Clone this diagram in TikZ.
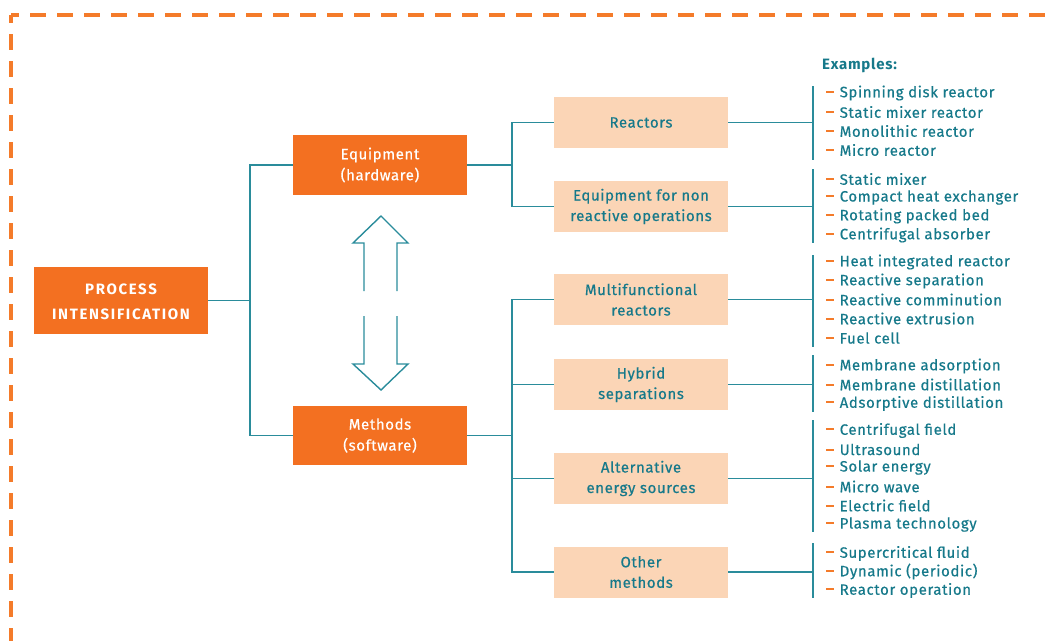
\documentclass[tikz,border=0pt]{standalone}
\usepackage{fontspec}
\setmainfont{Fira Sans}
\newfontfamily\itemfont{Fira Sans}[FakeBold=0.5,LetterSpace=4]
\newfontfamily\boldfont{Fira Sans Bold}[LetterSpace=11]
\newfontfamily\exfont{Fira Sans Bold}[LetterSpace=5]
\definecolor{porange}{HTML}{F37021}
\definecolor{peach}{HTML}{FBD5B6}
\definecolor{teal}{HTML}{16798A}
\definecolor{lteal}{HTML}{2A8C9B}
\definecolor{dorange}{HTML}{F47B2A}
\begin{document}
\begin{tikzpicture}[x=1pt,y=-1pt,
  mainbox/.style={fill=porange,text=white,minimum width=174pt,inner sep=0pt,align=center,font=\itemfont\fontsize{15}{21}\selectfont},
  subbox/.style={fill=peach,text=teal,minimum width=174pt,minimum height=51pt,inner sep=0pt,align=center,font=\itemfont\fontsize{15}{20.5}\selectfont},
  conn/.style={draw=lteal,line width=1.3pt},
  item/.style={anchor=west,inner sep=0pt,text=teal,font=\itemfont\fontsize{15}{16}\selectfont},
  dbl/.style={draw=lteal,line width=1.4pt,line join=miter}]
\useasboundingbox (0,0) rectangle (1055,641);
% dashed frame
\draw[dorange,line width=4pt,dash pattern=on 16pt off 11pt,dash phase=8pt] (11,15) -- (1055,15);
\draw[dorange,line width=4pt,dash pattern=on 16pt off 11pt,dash phase=8pt] (11,15) -- (11,641);
% main boxes
\node[mainbox,minimum height=65pt,font=\boldfont\fontsize{15}{25}\selectfont] (pi) at (121,301.5) {PROCESS\\INTENSIFICATION};
\fill[porange] (pi.north west) rectangle ([yshift=2pt]pi.north east);
\node[mainbox,minimum height=60pt] (equip) at (380,165) {Equipment\\(hardware)};
\node[mainbox,minimum height=59pt] (meth) at (380,435.5) {Methods\\(software)};
% sub boxes
\node[subbox] (reac) at (641,122.5) {Reactors};
\node[subbox] (nonr) at (641,206.5) {Equipment for non\\reactive operations};
\node[subbox] (multi) at (641,299.5) {Multifunctional\\reactors};
\node[subbox] (hyb) at (641,384.5) {Hybrid\\separations};
\node[subbox] (alt) at (641,478.5) {Alternative\\energy sources};
\node[subbox] (oth) at (641,572) {Other\\methods};
% junctions
\coordinate (j1) at (250,300.5);
\coordinate (j2) at (512,165);
\coordinate (j3) at (512,435.5);
\draw[conn] (pi.east |- j1) -- (j1);
\draw[conn] (equip.west) -| (j1) |- (meth.west);
\draw[conn] (equip.east) -- (j2);
\draw[conn] (reac.west) -| (j2) |- (nonr.west);
\draw[conn] (meth.east) -- (j3);
\draw[conn] (multi.west) -| (j3) |- (oth.west);
\draw[conn] (hyb.west) -- (hyb.west -| j3);
\draw[conn] (alt.west) -- (alt.west -| j3);
% brackets
\coordinate (b1) at (813,122.5);
\coordinate (b2) at (813,206.5);
\coordinate (b3) at (813,299.5);
\coordinate (b4) at (813,384.5);
\coordinate (b5) at (813,478.5);
\coordinate (b6) at (813,572);
\draw[conn] (reac.east) -- (b1);
\draw[conn] (nonr.east) -- (b2);
\draw[conn] (multi.east) -- (b3);
\draw[conn] (hyb.east) -- (b4);
\draw[conn] (alt.east) -- (b5);
\draw[conn] (oth.east) -- (b6);
\draw[conn] (813,86) -- (813,160);
\draw[conn] (813,169) -- (813,243);
\draw[conn] (813,255) -- (813,347);
\draw[conn] (813,355) -- (813,412);
\draw[conn] (813,420) -- (813,532);
\draw[conn] (813,543) -- (813,598);
% double arrow
\draw[dbl] (364,291) -- (364,243) -- (353,243) -- (381,216) -- (408,243) -- (397,243) -- (397,291);
\draw[dbl] (364,316) -- (364,364) -- (353,364) -- (381,390) -- (408,364) -- (397,364) -- (397,316);
% examples
\node[item,font=\exfont\fontsize{15}{16}\selectfont] (ex) at (822,65) {Examples:};
\newcommand{\itm}[3]{\node[item] (#1) at (826,#2) {\textcolor{dorange}{\rule[0.3em]{7.5pt}{2pt}}\hspace{6pt}#3};}
\itm{e1}{93}{Spinning disk reactor}
\itm{e2}{112}{Static mixer reactor}
\itm{e3}{131}{Monolithic reactor}
\itm{e4}{150}{Micro reactor}
\itm{e5}{179}{Static mixer}
\itm{e6}{197.5}{Compact heat exchanger}
\itm{e7}{216}{Rotating packed bed}
\itm{e8}{235}{Centrifugal absorber}
\itm{e9}{262}{Heat integrated reactor}
\itm{e10}{281}{Reactive separation}
\itm{e11}{299.5}{Reactive comminution}
\itm{e12}{318.5}{Reactive extrusion}
\itm{e13}{338}{Fuel cell}
\itm{e14}{366}{Membrane adsorption}
\itm{e15}{384.5}{Membrane distillation}
\itm{e16}{403.5}{Adsorptive distillation}
\itm{e17}{430.5}{Centrifugal field}
\itm{e18}{449.5}{Ultrasound}
\itm{e19}{467.5}{Solar energy}
\itm{e20}{486.5}{Micro wave}
\itm{e21}{505.5}{Electric field}
\itm{e22}{524.5}{Plasma technology}
\itm{e23}{553.5}{Supercritical fluid}
\itm{e24}{571.5}{Dynamic (periodic)}
\itm{e25}{590.5}{Reactor operation}
\end{tikzpicture}
\end{document}
